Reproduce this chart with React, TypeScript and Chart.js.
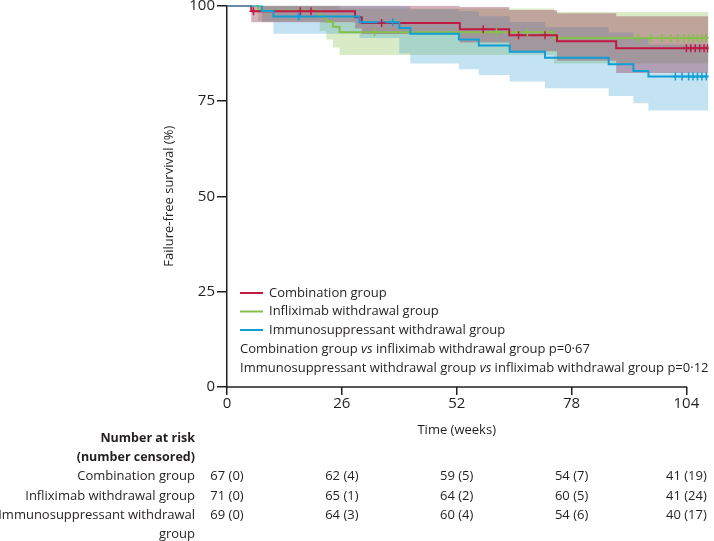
import React, { useEffect, useRef } from 'react';
import { Chart, registerables } from 'chart.js';

Chart.register(...registerables);

const FONT = '"Open Sans", "DejaVu Sans", sans-serif';
const INK = '#231f20';

// Axis ticks
const weekTicks = [0, 26, 52, 78, 104];
const survivalTicks = [0, 25, 50, 75, 100];

// Combination group
const combTimes = [0, 5.5, 29, 30.5, 52.7, 63.9, 74.7, 88.1, 109];
const combSurv = [100, 98.5, 96.9, 95.4, 93.8, 92.2, 90.6, 88.8, 88.8];
const combLower = [100, 95.6, 94.0, 92.5, 90.3, 88.0, 85.5, 82.3, 82.3];
const combUpper = [100, 100, 100, 100, 99.6, 98.8, 98.0, 97.2, 97.2];
const combCensored = [6, 16.6, 19, 35, 58, 66, 72, 104, 105, 106, 107, 108, 108.8];

// Infliximab withdrawal group
const inflTimes = [0, 7, 21, 22.5, 24, 25.5, 74, 109];
const inflSurv = [100, 98.6, 97.2, 95.8, 94.4, 93.0, 91.5, 91.5];
const inflLower = [100, 95.9, 93.3, 91.1, 89.0, 87.0, 84.8, 84.8];
const inflUpper = [100, 100, 100, 100, 99.8, 99.2, 98.3, 98.3];
const inflCensored = [33.4, 61, 68, 93, 96, 98.5, 100.5, 102, 103.5, 104.5, 105.5, 106.5, 107.5, 108.5];

// Immunosuppressant withdrawal group
const immTimes = [0, 7.9, 10.5, 30, 39, 41.5, 52.5, 57, 64, 72, 86.4, 92, 95.4, 109];
const immSurv = [100, 98.55, 97.1, 95.6, 94.1, 92.6, 91.1, 89.5, 87.9, 86.3, 84.6, 82.8, 81.4, 81.4];
const immLower = [100, 95.7, 92.6, 91.5, 87.4, 84.8, 83.3, 81.8, 80.1, 78.3, 76.3, 74.4, 72.5, 72.5];
const immUpper = [100, 100, 100, 100, 99.8, 99.0, 98.5, 97.2, 95.7, 94.3, 92.9, 91.2, 89.8, 89.8];
const immCensored = [16.2, 37.5, 101.5, 103, 104.5, 105.5, 106.5, 107.5, 108.5];

// Number at risk (number censored)
const combAtRisk = [67, 62, 59, 54, 41];
const combCens = [0, 4, 5, 7, 19];
const inflAtRisk = [71, 65, 64, 60, 41];
const inflCens = [0, 1, 2, 5, 24];
const immAtRisk = [69, 64, 60, 54, 40];
const immCens = [0, 3, 4, 6, 17];

const RED = '#be1a44';
const GREEN = '#86bf4a';
const BLUE = '#0f9fd6';
const RED_BAND = 'rgba(150,60,90,0.40)';
const GREEN_BAND = 'rgba(130,185,70,0.30)';
const BLUE_BAND = 'rgba(40,155,210,0.28)';

function pts(times: number[], vals: number[]) {
  return times.map((t, i) => ({ x: t, y: vals[i] }));
}
function stepAt(times: number[], vals: number[], t: number) {
  let v = vals[0];
  for (let i = 0; i < times.length; i++) if (times[i] <= t) v = vals[i];
  return v;
}
function censorPts(c: number[], times: number[], vals: number[]) {
  return c.map((t) => ({ x: t, y: stepAt(times, vals, t) }));
}

function band(label: string, times: number[], lo: number[], hi: number[], color: string, order: number) {
  return [
    {
      label: label + ' upper', data: pts(times, hi), stepped: 'before' as const,
      borderColor: 'transparent', borderWidth: 0, pointRadius: 0, fill: false, order,
    },
    {
      label: label + ' lower', data: pts(times, lo), stepped: 'before' as const,
      borderColor: 'transparent', borderWidth: 0, pointRadius: 0, fill: '-1', backgroundColor: color, order,
    },
  ];
}

const textPlugin = {
  id: 'textPlugin',
  afterDraw(chart: any) {
    const ctx = chart.ctx as CanvasRenderingContext2D;
    const xs = chart.scales.x;
    const ca = chart.chartArea;
    ctx.save();
    // x axis line (0 to 104)
    ctx.strokeStyle = INK;
    ctx.lineWidth = 1.5;
    ctx.beginPath();
    ctx.moveTo(ca.left, ca.bottom);
    ctx.lineTo(xs.getPixelForValue(104) + 0.75, ca.bottom);
    ctx.stroke();

    ctx.fillStyle = INK;
    ctx.textBaseline = 'middle';
    const f = `13px ${FONT}`;
    const fi = `italic 13px ${FONT}`;
    const fb = `bold 12.5px ${FONT}`;

    // legend
    const legend = [
      ['Combination group', RED],
      ['Infliximab withdrawal group', GREEN],
      ['Immunosuppressant withdrawal group', BLUE],
    ];
    const ly = [293, 311.5, 330];
    legend.forEach((l, i) => {
      ctx.strokeStyle = l[1];
      ctx.lineWidth = 2;
      ctx.beginPath();
      ctx.moveTo(240, ly[i]);
      ctx.lineTo(263, ly[i]);
      ctx.stroke();
      ctx.font = f;
      ctx.textAlign = 'left';
      ctx.fillText(l[0], 269, ly[i]);
    });
    const pv = [
      ['Combination group ', 'vs', ' infliximab withdrawal group p=0·67'],
      ['Immunosuppressant withdrawal group ', 'vs', ' infliximab withdrawal group p=0·12'],
    ];
    const py = [349, 368];
    pv.forEach((p, i) => {
      let x = 240;
      ctx.textAlign = 'left';
      ctx.font = f; ctx.fillText(p[0], x, py[i]); x += ctx.measureText(p[0]).width;
      ctx.font = fi; ctx.fillText(p[1], x, py[i]); x += ctx.measureText(p[1]).width;
      ctx.font = f; ctx.fillText(p[2], x, py[i]);
    });

    // y title
    ctx.save();
    ctx.translate(169, (ca.top + ca.bottom) / 2);
    ctx.rotate(-Math.PI / 2);
    ctx.textAlign = 'center';
    ctx.font = f;
    ctx.fillText('Failure-free survival (%)', 0, 0);
    ctx.restore();

    // x title
    ctx.textAlign = 'center';
    ctx.font = f;
    ctx.fillText('Time (weeks)', (xs.getPixelForValue(0) + xs.getPixelForValue(104)) / 2, 430);

    // at-risk table
    const lx = 195;
    ctx.textAlign = 'right';
    ctx.font = fb;
    ctx.fillText('Number at risk', lx, 438);
    ctx.fillText('(number censored)', lx, 457.5);
    ctx.font = f;
    const rows: [string, number[], number[], number][] = [
      ['Combination group', combAtRisk, combCens, 476.5],
      ['Infliximab withdrawal group', inflAtRisk, inflCens, 496],
      ['Immunosuppressant withdrawal', immAtRisk, immCens, 515],
    ];
    rows.forEach((r) => {
      ctx.textAlign = 'right';
      ctx.fillText(r[0], lx, r[3]);
      ctx.textAlign = 'center';
      weekTicks.forEach((w, j) => {
        ctx.fillText(`${r[1][j]} (${r[2][j]})`, xs.getPixelForValue(w), r[3]);
      });
    });
    ctx.textAlign = 'right';
    ctx.fillText('group', lx, 534);
    ctx.restore();
  },
};

export default function App() {
  const ref = useRef<HTMLCanvasElement>(null);
  useEffect(() => {
    if (!ref.current) return;
    Chart.defaults.font.family = FONT;
    const chart = new Chart(ref.current, {
      type: 'line',
      data: {
        datasets: [
          { label: 'imm-c', data: censorPts(immCensored, immTimes, immSurv), showLine: false, pointStyle: 'cross', pointRadius: 4, pointBorderWidth: 1.5, borderColor: BLUE, order: -3 },
          { label: 'comb-c', data: censorPts(combCensored, combTimes, combSurv), showLine: false, pointStyle: 'cross', pointRadius: 4, pointBorderWidth: 1.5, borderColor: RED, order: -2 },
          { label: 'infl-c', data: censorPts(inflCensored, inflTimes, inflSurv), showLine: false, pointStyle: 'cross', pointRadius: 4, pointBorderWidth: 1.5, borderColor: GREEN, order: -1 },
          { label: 'Immunosuppressant withdrawal group', data: pts(immTimes, immSurv), stepped: 'before', borderColor: BLUE, borderWidth: 2, pointRadius: 0, fill: false, order: 0 },
          { label: 'Combination group', data: pts(combTimes, combSurv), stepped: 'before', borderColor: RED, borderWidth: 2, pointRadius: 0, fill: false, order: 1 },
          { label: 'Infliximab withdrawal group', data: pts(inflTimes, inflSurv), stepped: 'before', borderColor: GREEN, borderWidth: 2, pointRadius: 0, fill: false, order: 2 },
          ...band('comb', combTimes, combLower, combUpper, RED_BAND, 10),
          ...band('imm', immTimes, immLower, immUpper, BLUE_BAND, 11),
          ...band('infl', inflTimes, inflLower, inflUpper, GREEN_BAND, 12),
        ] as any,
      },
      options: {
        responsive: false,
        animation: false,
        layout: { padding: { top: 4, right: 1, left: 0, bottom: 0 } },
        plugins: { legend: { display: false }, tooltip: { enabled: false } },
        scales: {
          x: {
            type: 'linear', min: 0, max: 109,
            afterBuildTicks: (s: any) => { s.ticks = weekTicks.map((v) => ({ value: v })); },
            afterFit: (s: any) => { s.height = 154; s.paddingLeft = 0; s.paddingRight = 0; },
            ticks: { font: { size: 15, family: FONT }, color: INK, padding: 0, maxRotation: 0, autoSkip: false },
            grid: { display: true, drawOnChartArea: false, drawTicks: true, tickLength: 8, color: INK, lineWidth: 1.5 },
            border: { display: false },
          },
          y: {
            type: 'linear', min: 0, max: 100,
            afterBuildTicks: (s: any) => { s.ticks = survivalTicks.map((v) => ({ value: v })); },
            afterFit: (s: any) => { s.width = 227; s.paddingTop = 0; s.paddingBottom = 0; },
            ticks: { font: { size: 15, family: FONT }, color: INK, padding: 2, autoSkip: false },
            grid: { display: true, drawOnChartArea: false, drawTicks: true, tickLength: 10, color: INK, lineWidth: 1.5 },
            border: { display: true, color: INK, width: 1.5 },
          },
        },
      } as any,
      plugins: [textPlugin],
    });
    return () => chart.destroy();
  }, []);
  return (
    <div style={{ position: 'absolute', left: 0, top: 0, width: 714, height: 541, background: '#fff' }}>
      <canvas ref={ref} width={714} height={541} style={{ width: 714, height: 541 }} />
    </div>
  );
}
